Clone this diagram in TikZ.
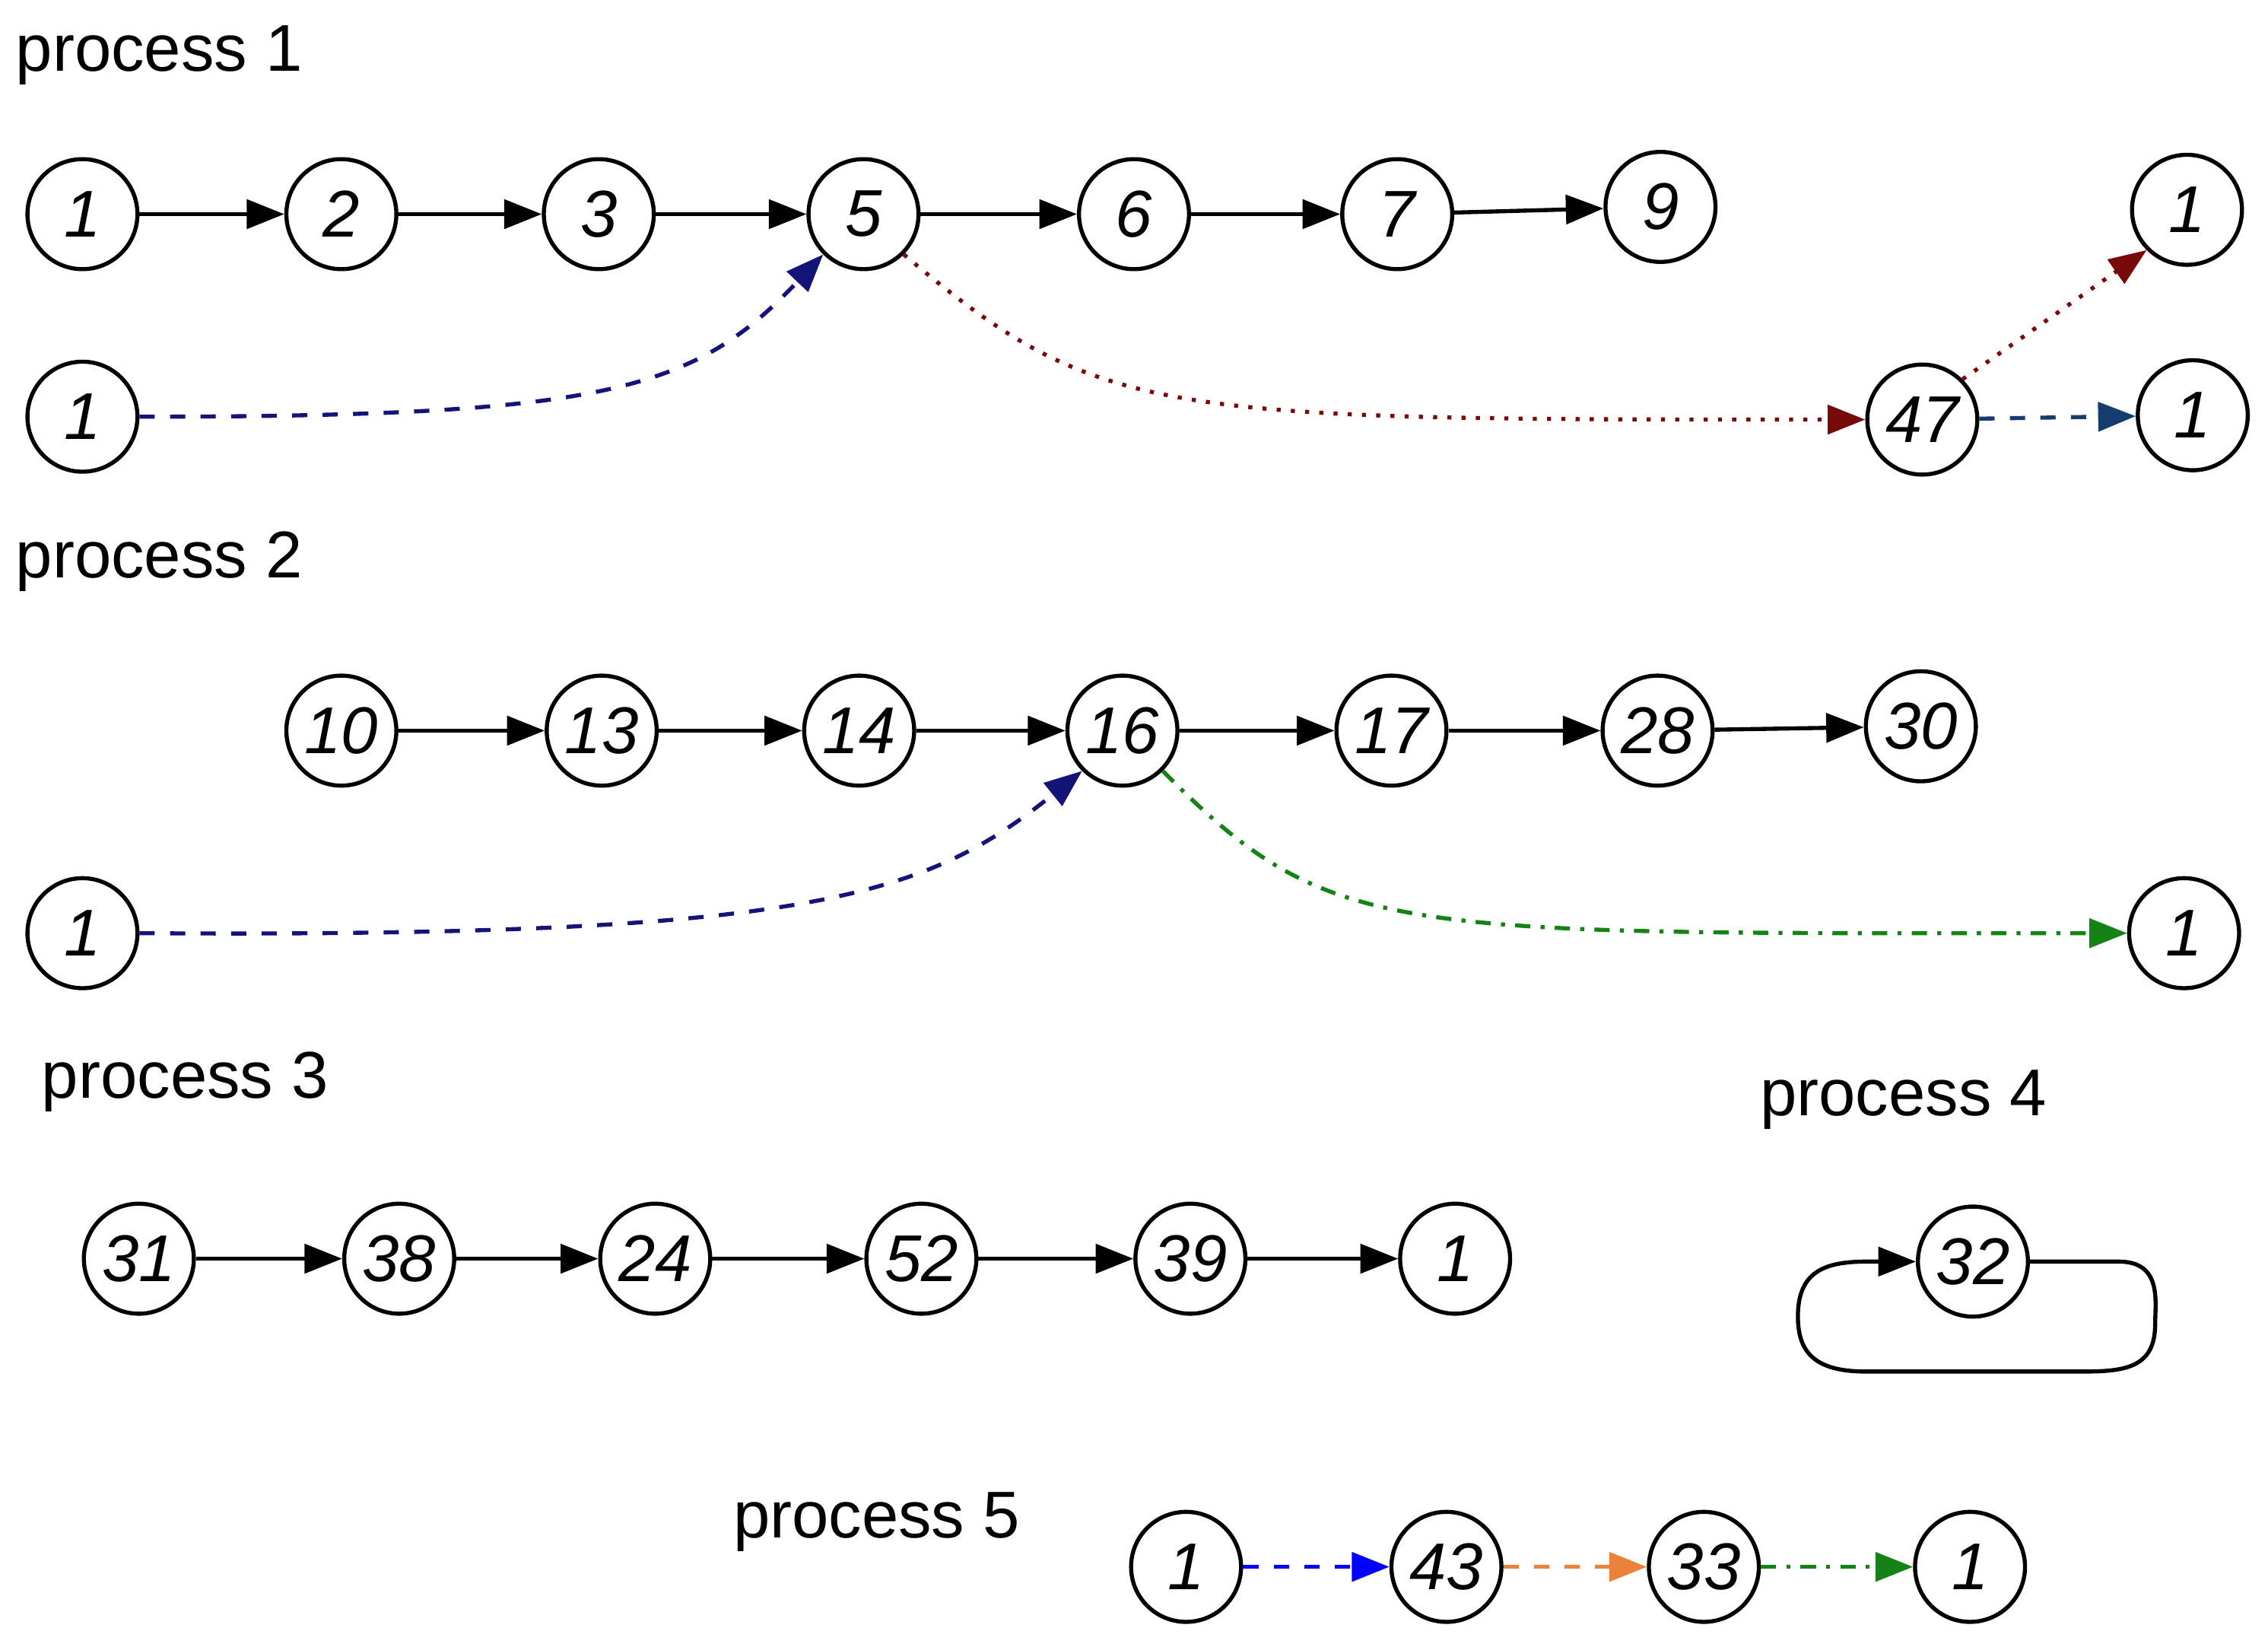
\documentclass[tikz,border=0pt]{standalone}
\usepackage{fontspec}
\setmainfont{Liberation Sans}
\usetikzlibrary{arrows.meta}
\definecolor{navy}{RGB}{20,20,120}
\definecolor{dred}{RGB}{120,10,10}
\definecolor{steel}{RGB}{20,60,110}
\definecolor{dgreen}{RGB}{20,130,20}
\definecolor{orng}{RGB}{235,130,60}
\begin{document}
\begin{tikzpicture}[x=0.01cm,y=-0.01cm,
  st/.style={circle,draw,thick,minimum size=0.76cm,inner sep=0pt,font=\fontsize{13}{15}\selectfont\itshape},
  lbl/.style={font=\fontsize{13}{15}\selectfont},
  tip/.style={-{Triangle[length=0.26cm,width=0.2cm]}},
  ar/.style={tip,thick},
  nv/.style={tip,thick,dashed,navy},
]
\useasboundingbox (0,0) rectangle (1568,1138);
\node[lbl] at (110,38) {process 1};
\node[lbl] at (110,388) {process 2};
\node[lbl] at (128,748) {process 3};
\node[lbl] at (1316,760) {process 4};
\node[lbl] at (606,1052) {process 5};
% process 1
\node[st] (a1) at (57,148) {1};
\node[st] (a2) at (236,148) {2};
\node[st] (a3) at (414,148) {3};
\node[st] (a5) at (597,148) {5};
\node[st] (a6) at (784,148) {6};
\node[st] (a7) at (966,148) {7};
\node[st] (a9) at (1148,143) {9};
\node[st] (ar1) at (1512,145) {1};
\node[st] (b1) at (57,288) {1};
\node[st] (b47) at (1329,290) {47};
\node[st] (br1) at (1516,287) {1};
\draw[ar] (a1) -- (a2);
\draw[ar] (a2) -- (a3);
\draw[ar] (a3) -- (a5);
\draw[ar] (a5) -- (a6);
\draw[ar] (a6) -- (a7);
\draw[ar] (a7) -- (a9);
\draw[nv] (b1.east) .. controls (420,288) and (480,270) .. (a5.south west);
\draw[tip,thick,dotted,dred] (a5.south east) .. controls (760,290) and (800,290) .. (b47.west);
\draw[tip,thick,dotted,dred] (b47.north east) -- (ar1.south west);
\draw[tip,thick,dashed,steel] (b47) -- (br1);
% process 2
\node[st] (c10) at (236,505) {10};
\node[st] (c13) at (416,505) {13};
\node[st] (c14) at (594,505) {14};
\node[st] (c16) at (776,505) {16};
\node[st] (c17) at (962,505) {17};
\node[st] (c28) at (1146,505) {28};
\node[st] (c30) at (1328,502) {30};
\node[st] (d1) at (57,645) {1};
\node[st] (dr1) at (1510,645) {1};
\draw[ar] (c10) -- (c13);
\draw[ar] (c13) -- (c14);
\draw[ar] (c14) -- (c16);
\draw[ar] (c16) -- (c17);
\draw[ar] (c17) -- (c28);
\draw[ar] (c28) -- (c30);
\draw[nv] (d1.east) .. controls (560,648) and (640,620) .. (c16.south west);
\draw[tip,thick,dash dot,dgreen] (c16.south east) .. controls (920,650) and (960,645) .. (dr1.west);
% process 3
\node[st] (e31) at (96,870) {31};
\node[st] (e38) at (276,870) {38};
\node[st] (e24) at (453,870) {24};
\node[st] (e52) at (637,870) {52};
\node[st] (e39) at (823,870) {39};
\node[st] (e1) at (1006,870) {1};
\draw[ar] (e31) -- (e38);
\draw[ar] (e38) -- (e24);
\draw[ar] (e24) -- (e52);
\draw[ar] (e52) -- (e39);
\draw[ar] (e39) -- (e1);
% process 4
\node[st] (f32) at (1364,872) {32};
\draw[ar] (f32.east) -- (1465,872) .. controls (1495,872) and (1490,900) .. (1490,915)
  .. controls (1490,945) and (1470,948) .. (1440,948) -- (1290,948)
  .. controls (1255,948) and (1243,935) .. (1243,910)
  .. controls (1243,880) and (1260,872) .. (1290,872) -- (f32.west);
% process 5
\node[st] (g1) at (820,1083) {1};
\node[st] (g43) at (1000,1083) {43};
\node[st] (g33) at (1178,1083) {33};
\node[st] (g1b) at (1362,1083) {1};
\draw[tip,thick,dashed,blue] (g1) -- (g43);
\draw[tip,thick,dashed,orng] (g43) -- (g33);
\draw[tip,thick,dash dot,dgreen] (g33) -- (g1b);
\end{tikzpicture}
\end{document}
